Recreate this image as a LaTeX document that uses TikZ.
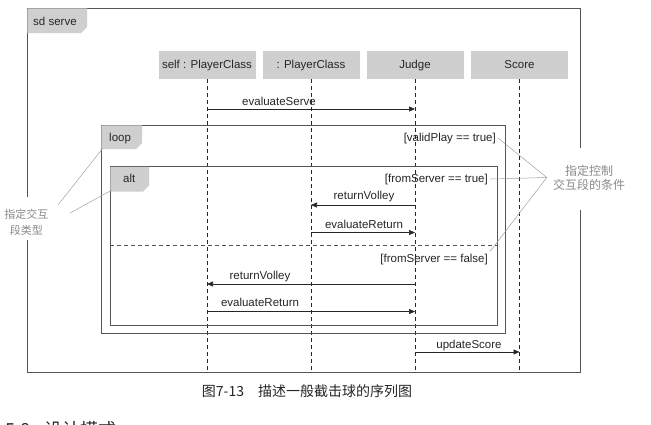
\documentclass[tikz,border=0pt]{standalone}
\usepackage{fontspec}
\setmainfont{Liberation Sans}
\newfontfamily\cjk{Noto Sans CJK SC}
\usetikzlibrary{arrows.meta}
\definecolor{tabgray}{HTML}{CFCFCF}
\definecolor{framecol}{HTML}{555555}
\definecolor{inkcol}{HTML}{262626}
\definecolor{notecol}{HTML}{8A8A8A}
\tikzset{
  headbox/.style={fill=tabgray, minimum width=97pt, minimum height=28pt, inner sep=0pt,
                  text=inkcol, font=\fontsize{11.5}{13}\selectfont, text height=8.5pt, text depth=2.5pt},
  frameline/.style={draw=framecol, line width=0.8pt},
  lifeline/.style={draw=inkcol, line width=0.6pt, dash pattern=on 4pt off 3pt},
  msg/.style={draw=inkcol, line width=0.6pt, -{Triangle[length=6pt,width=5pt]}},
  lbl/.style={text=inkcol, font=\fontsize{11.5}{13}\selectfont, inner sep=0pt},
  guard/.style={text=inkcol, font=\fontsize{11.5}{13}\selectfont, inner sep=2pt},
  tabtext/.style={text=inkcol, font=\fontsize{11.5}{13}\selectfont, inner sep=0pt, anchor=base west},
  noteline/.style={draw=notecol!80, line width=0.5pt},
  notetext/.style={text=notecol, align=center, font=\cjk\fontsize{12}{14}\selectfont, inner sep=6pt},
}
\begin{document}
\begin{tikzpicture}[x=1pt,y=-1pt]
\clip (0,0) rectangle (651,424);
\fill[white] (0,0) rectangle (651,424);

% outer frame (with gaps for the notes)
\draw[frameline] (27,197) -- (27,8) -- (580,8) -- (580,148);
\draw[frameline] (580,210) -- (580,372) -- (27,372) -- (27,240);
\fill[tabgray] (27.4,8.4) -- (87,8.4) -- (87,27) -- (81,33) -- (27.4,33) -- cycle;
\node[tabtext] (sdlbl) at (33,25) {sd serve};

% lifeline heads
\node[headbox] (self)  at (207,65) {self : PlayerClass};
\node[headbox] (pc)    at (311,65) {: PlayerClass};
\node[headbox] (judge) at (415,65) {Judge};
\node[headbox] (score) at (519.5,65) {Score};

% lifelines
\foreach \n in {self,pc,judge,score}{
  \draw[lifeline] (\n.south) -- (\n.south |- 0,372);
}

% loop frame
\draw[frameline] (101,125) rectangle (505,333);
\fill[tabgray] (101.4,125.4) -- (142,125.4) -- (142,143) -- (136,149) -- (101.4,149) -- cycle;
\node[tabtext] (looplbl) at (109,141.5) {loop};

% alt frame
\draw[frameline] (110,166.5) rectangle (497,325);
\fill[tabgray] (110.4,166.9) -- (149,166.9) -- (149,185.5) -- (143,191.5) -- (110.4,191.5) -- cycle;
\node[tabtext] (altlbl) at (123,182.5) {alt};
\draw[frameline, dash pattern=on 4pt off 3pt] (110,245) -- (497,245);

% guards
\node[guard, anchor=base east] (g1) at (498,141) {[validPlay == true]};
\node[guard, anchor=base east] (g2) at (490,182) {[fromServer == true]};
\node[guard, anchor=base east] (g3) at (490,262) {[fromServer == false]};

% messages
\draw[msg] (self.south |- 0,109) -- (judge.south |- 0,109);
\node[lbl, anchor=base] (l1) at (279,105) {evaluateServe};

\draw[msg] (judge.south |- 0,205) -- (pc.south |- 0,205);
\node[lbl, anchor=base] (l2) at (364,199) {returnVolley};

\draw[msg] (pc.south |- 0,232.5) -- (judge.south |- 0,232.5);
\node[lbl, anchor=base] (l3) at (364,228) {evaluateReturn};

\draw[msg] (judge.south |- 0,284) -- (self.south |- 0,284);
\node[lbl, anchor=base] (l4) at (260,279) {returnVolley};

\draw[msg] (self.south |- 0,311.5) -- (judge.south |- 0,311.5);
\node[lbl, anchor=base] (l5) at (260,306) {evaluateReturn};

\draw[msg] (judge.south |- 0,352) -- (score.south |- 0,352);
\node[lbl, anchor=base] (l6) at (469,348) {updateScore};

% notes
\node[notetext] (condnote) at (589,177.5) {指定控制\\交互段的条件};
\draw[noteline] (g1.east) -- (condnote.west);
\draw[noteline] (g2.east) -- (condnote.west);
\draw[noteline] (g3.north east) -- (condnote.west);

\node[notetext, font=\cjk\fontsize{11}{15.5}\selectfont, inner sep=0pt] (typenote) at (26.5,222.5) {指定交互\\段类型};
\coordinate (tn1) at (58,205);
\coordinate (tn2) at (70,213);
\coordinate (looptip) at (103,148);
\coordinate (alttip) at (112,190);
\draw[noteline] (looptip) -- (tn1);
\draw[noteline] (alttip) -- (tn2);

% caption
\node[text=inkcol, font=\cjk\fontsize{14}{16}\selectfont, anchor=base, inner sep=0pt] (caption) at (307,396) {图7-13\hspace{1em}描述一般截击球的序列图};
\node[text=inkcol, font=\cjk\fontsize{18}{20}\selectfont, anchor=base west, inner sep=0pt] (heading) at (5,436) {5.8\hspace{0.8em}设计模式};
\end{tikzpicture}
\end{document}
